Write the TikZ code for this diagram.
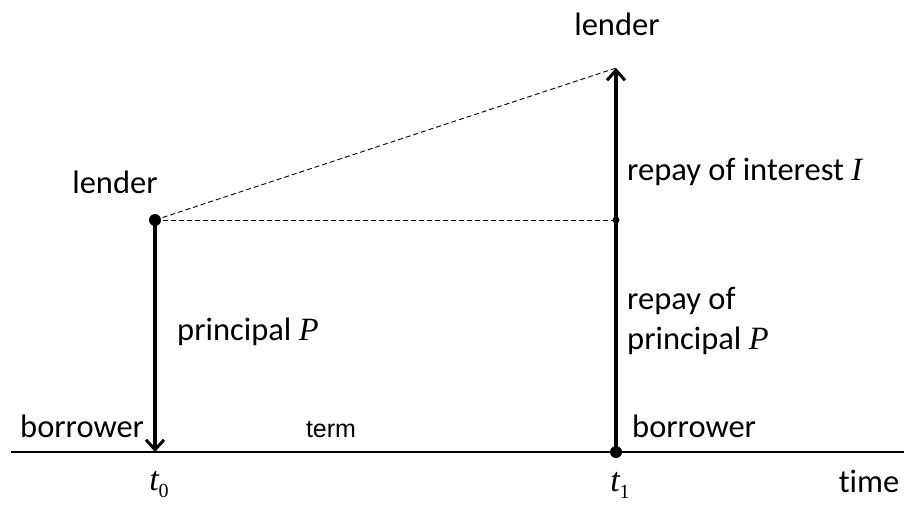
\documentclass[tikz,border=0pt]{standalone}
\usepackage{fontspec}
\setmainfont[Ligatures={NoCommon}]{Carlito}
\newfontfamily\serifmath{Liberation Serif}
\newfontfamily\arialf{Liberation Sans}
\usetikzlibrary{arrows.meta}
\tikzset{
  lbl/.style={font=\fontsize{32.5}{40}\selectfont, inner sep=0pt},
  smalllbl/.style={font=\arialf\fontsize{25}{28}\selectfont, inner sep=0pt},
  tlbl/.style={font=\serifmath\fontsize{34}{38}\selectfont, inner sep=0pt},
  flow/.style={line width=3.5pt, -{Straight Barb[length=10pt,width=18pt,line width=3pt]}},
  flowline/.style={line width=3.5pt},
  guide/.style={dashed, line width=0.9pt, dash pattern=on 5pt off 3pt},
  axis/.style={line width=1.3pt},
  bigdot/.style={circle, fill=black, inner sep=0pt, minimum size=12pt},
  smalldot/.style={circle, fill=black, inner sep=0pt, minimum size=7pt}
}
\newcommand{\vit}[1]{{\serifmath\itshape #1}}
\begin{document}
\begin{tikzpicture}[x=1pt,y=-1pt]
\useasboundingbox (0,0) rectangle (904,504);
% axis
\coordinate (axL) at (11,452);
\coordinate (axR) at (904,452);
\draw[axis] (axL) -- (axR);
% points
\coordinate (b0) at (155,452);
\node[bigdot] (a0) at (155,220) {};
\node[bigdot] (b1) at (616,452) {};
\node[smalldot] (m1) at (616,220) {};
\coordinate (top1) at (616,68);
% arrows
\draw[flow] (a0.center) -- (b0);
\draw[flowline] (b1.center) -- (m1.center);
\draw[flow] (m1.center) -- (top1);
% dashed guides
\draw[guide] (a0.center) -- (m1.center);
\draw[guide] (a0.center) -- (top1);
% labels
\node[lbl] (lendTop) at (617,24) {lender};
\node[lbl] (lendL) at (115,182) {lender};
\node[lbl, anchor=west] (interest) at (627,172) {repay of interest \vit{I}};
\node[lbl, anchor=west] (princ) at (177,332) {principal \vit{P}};
\node[lbl, anchor=west, align=left] (rprinc) at (627,321) {repay of\\principal \vit{P}};
\node[lbl, anchor=west] (borrL) at (20,426) {borrower};
\node[lbl, anchor=west] (borrR) at (632,426) {borrower};
\node[smalllbl] (term) at (331,430) {term};
\node[tlbl] (t0) at (159,485) {\vit{t}\raisebox{-0.45ex}{\fontsize{20}{22}\selectfont 0}};
\node[tlbl] (t1) at (620,485) {\vit{t}\raisebox{-0.45ex}{\fontsize{20}{22}\selectfont 1}};
\node[lbl] (time) at (869,481) {time};
\end{tikzpicture}
\end{document}
